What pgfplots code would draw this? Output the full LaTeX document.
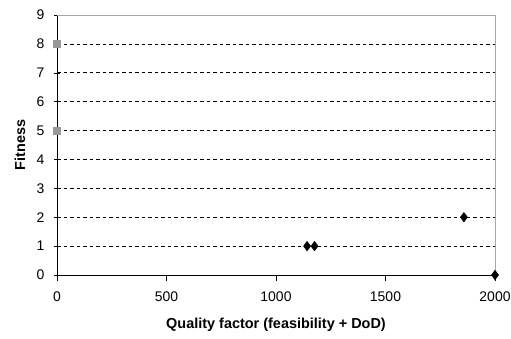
\documentclass[border=0pt]{standalone}
\usepackage{pgfplots}
\pgfplotsset{compat=1.18}
\usepackage{fontspec}
\setmainfont{Liberation Sans}
\begin{document}
\begin{tikzpicture}[x=1bp,y=1bp]
\path[use as bounding box] (-57bp,-64bp) rectangle (454bp,275bp);
\begin{axis}[
  at={(0,0)}, anchor=origin,
  scale only axis, width=438bp, height=260bp,
  xmin=0, xmax=2000, ymin=0, ymax=9,
  axis x line*=bottom, axis y line*=left,
  axis line style={black, line width=1pt, -},
  xtick={0,500,1000,1500,2000},
  ytick={0,1,...,9},
  tick style={black, thin},
  major tick length=6bp,
  xtick align=outside, ytick align=center,
  ymajorgrids,
  grid style={black, line width=0.6pt, dash pattern=on 3.5bp off 3bp},
  ticklabel style={font=\fontsize{14}{16}\selectfont},
  xticklabel style={anchor=center, yshift=-16bp},
  yticklabel style={anchor=east, xshift=-6bp},
  /pgf/number format/assume math mode=true,
  /pgf/number format/1000 sep={},
  xlabel={\bfseries Quality factor (feasibility + DoD)},
  ylabel={\bfseries Fitness},
  label style={font=\fontsize{14.5}{16}\selectfont},
  xlabel style={at={(axis description cs:0.5,0)}, yshift=-50bp, anchor=center},
  ylabel style={at={(axis description cs:0,0.5)}, xshift=0bp, yshift=37bp, anchor=center},
  clip=false,
]
\draw[gray!70, line width=0.8pt] (rel axis cs:0,1) -- (rel axis cs:1,1) -- (rel axis cs:1,0);
\addplot[only marks, mark=diamond*, mark size=4.8bp, black] coordinates {
  (1142,1) (1176,1) (1858,2) (2000,0)
};
\addplot[only marks, mark=square*, mark size=3.5bp, gray!80, mark options={fill=gray!80, draw=gray!80}] coordinates {
  (0,5) (0,8)
};
\end{axis}
\end{tikzpicture}
\end{document}
